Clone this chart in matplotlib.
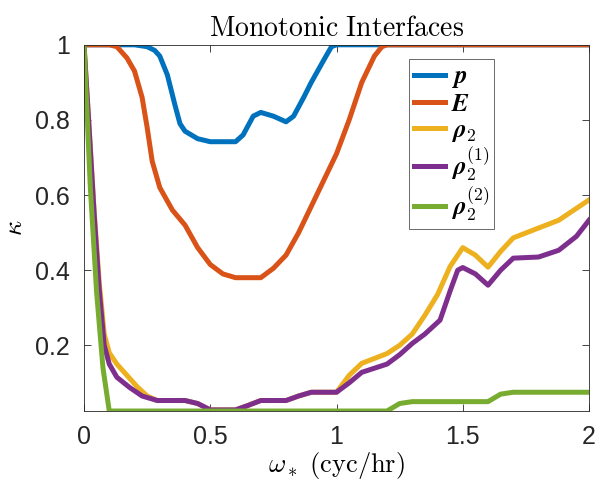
import matplotlib
matplotlib.use("Agg")
import matplotlib.pyplot as plt

plt.rcParams['mathtext.fontset'] = 'cm'
plt.rcParams['font.family'] = ['Liberation Sans', 'DejaVu Sans']

# p
x_p = [0, 0.1, 0.2, 0.25, 0.28, 0.3, 0.33, 0.36, 0.38, 0.4, 0.45, 0.5, 0.6, 0.63, 0.67, 0.7,
       0.75, 0.8, 0.83, 0.87, 0.9, 0.95, 0.98, 1.0, 2.0]
y_p = [1, 1, 1, 0.995, 0.985, 0.97, 0.92, 0.84, 0.79, 0.77, 0.75, 0.742, 0.742, 0.76, 0.81, 0.82,
       0.81, 0.795, 0.81, 0.86, 0.9, 0.96, 0.995, 1, 1]

# E
x_E = [0, 0.1, 0.13, 0.17, 0.2, 0.23, 0.25, 0.27, 0.3, 0.35, 0.4, 0.45, 0.5, 0.55, 0.6,
       0.7, 0.75, 0.8, 0.85, 0.9, 0.95, 1.0, 1.05, 1.1, 1.15, 1.18, 1.2, 2]
y_E = [1, 1, 0.995, 0.965, 0.93, 0.86, 0.78, 0.69, 0.62, 0.56, 0.52, 0.46, 0.415, 0.39, 0.38,
       0.38, 0.405, 0.44, 0.5, 0.57, 0.64, 0.71, 0.8, 0.9, 0.97, 0.995, 1, 1]

# rho_2
x_r = [0, 0.02, 0.04, 0.06, 0.08, 0.1, 0.13, 0.17, 0.21, 0.25, 0.29, 0.4, 0.45, 0.5,
       0.6, 0.65, 0.7, 0.8, 0.85, 0.9, 1.0, 1.05, 1.1, 1.2, 1.25, 1.3, 1.35, 1.4, 1.45,
       1.5, 1.55, 1.6, 1.65, 1.7, 1.78, 1.88, 2]
y_r = [1, 0.78, 0.56, 0.37, 0.23, 0.18, 0.15, 0.12, 0.09, 0.065, 0.053, 0.053, 0.045, 0.028,
       0.028, 0.04, 0.053, 0.053, 0.065, 0.075, 0.075, 0.12, 0.152, 0.178, 0.2, 0.23, 0.28, 0.335, 0.41,
       0.46, 0.44, 0.408, 0.45, 0.486, 0.507, 0.533, 0.587]

# rho_2^(1)
x_r1 = [0, 0.02, 0.04, 0.06, 0.08, 0.1, 0.13, 0.18, 0.23, 0.29, 0.4, 0.45, 0.5, 0.6,
        0.65, 0.7, 0.8, 0.85, 0.9, 1.0, 1.05, 1.1, 1.2, 1.25, 1.3, 1.35, 1.41, 1.45,
        1.48, 1.5, 1.55, 1.6, 1.65, 1.7, 1.8, 1.88, 1.95, 2]
y_r1 = [1, 0.78, 0.55, 0.35, 0.2, 0.15, 0.115, 0.088, 0.065, 0.053, 0.053, 0.045, 0.028, 0.028,
        0.04, 0.053, 0.053, 0.065, 0.075, 0.075, 0.1, 0.128, 0.15, 0.175, 0.205, 0.23, 0.267, 0.345,
        0.4, 0.407, 0.39, 0.36, 0.4, 0.432, 0.435, 0.453, 0.49, 0.533]

# rho_2^(2)
x_r2 = [0, 0.025, 0.05, 0.075, 0.1, 1.2, 1.25, 1.3, 1.6, 1.65, 1.7, 2]
y_r2 = [1, 0.62, 0.34, 0.14, 0.025, 0.025, 0.045, 0.05, 0.05, 0.07, 0.075, 0.075]

labels = [r'$\mathbfit{p}$', r'$\mathbfit{E}$', r'$\mathbfit{\rho}_2$',
          r'$\mathbfit{\rho}_2^{(1)}$', r'$\mathbfit{\rho}_2^{(2)}$']
colors = ['#0072BD', '#D95319', '#EDB120', '#7E2F8E', '#77AC30']

fig = plt.figure(figsize=(5.98, 4.87), dpi=100)
ax = fig.add_axes([0.1405, 0.156, 0.8445, 0.752])

series = [(x_p, y_p), (x_E, y_E), (x_r, y_r), (x_r1, y_r1), (x_r2, y_r2)]
for (xs, ys), lab, c in zip(series, labels, colors):
    ax.plot(xs, ys, color=c, lw=3.6, label=lab, solid_joinstyle='round')

ax.set_xlim(0, 2)
ax.set_ylim(0.025, 1)
ax.set_xticks([0, 0.5, 1, 1.5, 2])
ax.set_xticklabels(['0', '0.5', '1', '1.5', '2'])
ax.set_yticks([0.2, 0.4, 0.6, 0.8, 1])
ax.set_yticklabels(['0.2', '0.4', '0.6', '0.8', '1'])
ax.tick_params(direction='in', top=True, right=True, labelsize=18, length=5,
               width=0.6, colors='#262626', pad=10)
for s in ax.spines.values():
    s.set_linewidth(0.6)
    s.set_color('#262626')

ax.set_title(r'$\mathrm{Monotonic\ Interfaces}$', fontsize=20, pad=6)
ax.set_xlabel(r'$\omega_*\ \mathrm{(cyc/hr)}$', fontsize=19, labelpad=1)
ax.set_ylabel(r'$\kappa$', fontsize=19, labelpad=6)

leg = ax.legend(loc='upper left', bbox_to_anchor=(0.643, 0.96), fontsize=18,
                fancybox=False, edgecolor='#262626', handlelength=1.25,
                handletextpad=0.25, labelspacing=0.07, borderpad=0.2,
                borderaxespad=0)
leg.get_frame().set_linewidth(0.6)

fig.savefig('out.png', dpi=100)
